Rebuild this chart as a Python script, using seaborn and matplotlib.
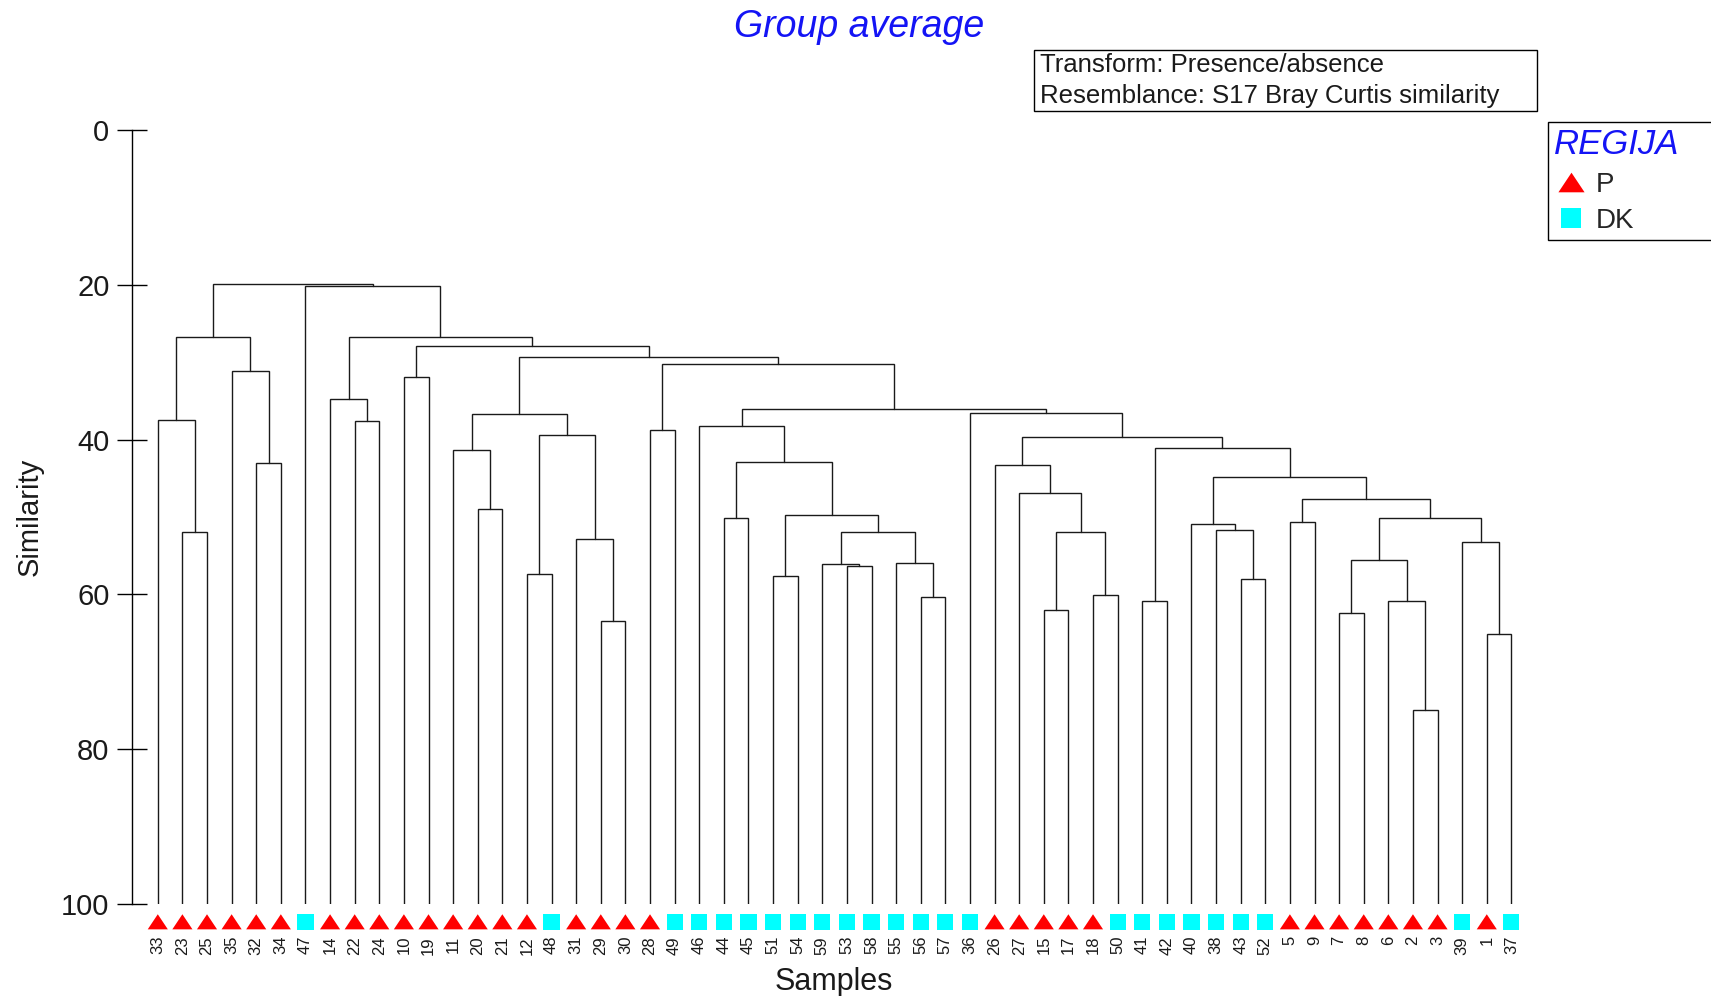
import matplotlib
matplotlib.use("Agg")
import matplotlib.pyplot as plt
from matplotlib.patches import Rectangle
from matplotlib.path import Path
import pandas as pd
import seaborn as sns

# Leaf order of the dendrogram (sample numbers) and the region of each sample
samples = [33, 23, 25, 35, 32, 34, 47, 14, 22, 24, 10, 19, 11, 20, 21, 12, 48,
           31, 29, 30, 28, 49, 46, 44, 45, 51, 54, 59, 53, 58, 55, 56, 57, 36,
           26, 27, 15, 17, 18, 50, 41, 42, 40, 38, 43, 52, 5, 9, 7, 8, 6, 2, 3,
           39, 1, 37]
regija = ["P", "P", "P", "P", "P", "P", "DK", "P", "P", "P", "P", "P", "P", "P",
          "P", "P", "DK", "P", "P", "P", "P", "DK", "DK", "DK", "DK", "DK", "DK",
          "DK", "DK", "DK", "DK", "DK", "DK", "DK", "P", "P", "P", "P", "P", "DK",
          "DK", "DK", "DK", "DK", "DK", "DK", "P", "P", "P", "P", "P", "P", "P",
          "DK", "P", "DK"]

# Group-average merges: (new node, left child, right child, similarity %)
merges = [
    ("n1", 23, 25, 52.0), ("n2", 33, "n1", 37.5), ("n3", 32, 34, 43.0),
    ("n4", 35, "n3", 31.2), ("n5", "n2", "n4", 26.8),
    ("n6", 22, 24, 37.6), ("n7", 14, "n6", 34.7), ("n8", 10, 19, 31.9),
    ("n9", 20, 21, 49.0), ("n10", 11, "n9", 41.3), ("n11", 12, 48, 57.4),
    ("n12", 29, 30, 63.5), ("n13", 31, "n12", 52.9), ("n14", "n11", "n13", 39.4),
    ("n15", "n10", "n14", 36.7), ("n16", 28, 49, 38.8),
    ("n17", 44, 45, 50.1), ("n18", 51, 54, 57.6), ("n19", 53, 58, 56.3),
    ("n20", 59, "n19", 56.1), ("n21", 56, 57, 60.3), ("n22", 55, "n21", 56.0),
    ("n23", "n20", "n22", 51.9), ("n24", "n18", "n23", 49.7),
    ("n25", "n17", "n24", 42.9), ("n26", 46, "n25", 38.2),
    ("n27", 15, 17, 62.0), ("n28", 18, 50, 60.1), ("n29", "n27", "n28", 52.0),
    ("n30", 27, "n29", 46.9), ("n31", 26, "n30", 43.3), ("n32", 41, 42, 60.9),
    ("n33", 43, 52, 58.0), ("n34", 38, "n33", 51.7), ("n35", 40, "n34", 50.9),
    ("n36", 5, 9, 50.7), ("n37", 7, 8, 62.4), ("n38", 2, 3, 74.9),
    ("n39", 6, "n38", 60.8), ("n40", "n37", "n39", 55.5), ("n41", 1, 37, 65.1),
    ("n42", 39, "n41", 53.2), ("n43", "n40", "n42", 50.1),
    ("n44", "n36", "n43", 47.7), ("n45", "n35", "n44", 44.8),
    ("n46", "n32", "n45", 41.1), ("n47", "n31", "n46", 39.6),
    ("n48", 36, "n47", 36.6), ("n49", "n26", "n48", 36.1),
    ("n50", "n16", "n49", 30.2), ("n51", "n15", "n50", 29.3),
    ("n52", "n8", "n51", 27.9), ("n53", "n7", "n52", 26.7),
    ("n54", 47, "n53", 20.2), ("n55", "n5", "n54", 19.9),
]

y_ticks = [0, 20, 40, 60, 80, 100]

sns.set_style("white")
plt.rcParams["font.family"] = ["Liberation Sans", "DejaVu Sans"]

W, H = 1711, 996
fig = plt.figure(figsize=(W / 100, H / 100), dpi=100)
ax = fig.add_axes([131.7 / W, 92 / H, (1536 - 131.7) / W, 774 / H])

# dendrogram links: each merge is drawn as an inverted U
line_col = "#1a1a1a"
xpos = {s: float(i) for i, s in enumerate(samples)}
level = {s: 100.0 for s in samples}
for node, a, b, sim in merges:
    xa, xb = xpos[a], xpos[b]
    ax.plot([xa, xa, xb, xb], [level[a], sim, sim, level[b]],
            color=line_col, lw=1.0, solid_joinstyle="miter", zorder=2)
    xpos[node] = (xa + xb) / 2
    level[node] = sim

# leaf markers coloured by region
leaf_df = pd.DataFrame({"pos": range(len(samples)),
                        "sim": [102.3] * len(samples),
                        "REGIJA": regija})
triangle = Path([(0, 0.75), (-1, -0.75), (1, -0.75), (0, 0.75)],
                [Path.MOVETO, Path.LINETO, Path.LINETO, Path.CLOSEPOLY])
sns.scatterplot(data=leaf_df, x="pos", y="sim", hue="REGIJA", style="REGIJA",
                size="REGIJA", hue_order=["P", "DK"], style_order=["P", "DK"],
                size_order=["P", "DK"],
                palette={"P": "#ff0000", "DK": "#00ffff"},
                markers={"P": triangle, "DK": "s"},
                sizes={"P": 210, "DK": 135},
                linewidth=0, clip_on=False, zorder=3, ax=ax)

ax.set_ylim(100, 0)
ax.set_xlim(-1.06, len(samples))
ax.set_yticks(y_ticks, [str(v) for v in y_ticks])
ax.set_xticks(range(len(samples)), [str(s) for s in samples], rotation=90)
ax.tick_params(axis="y", left=True, direction="inout", length=21, width=1.0,
               labelsize=21, pad=5.5, color="black", labelcolor="#1a1a1a")
ax.tick_params(axis="x", bottom=False, length=0, labelsize=12, pad=23,
               labelcolor="#1a1a1a")
for side in ["top", "right", "bottom"]:
    ax.spines[side].set_visible(False)
ax.spines["left"].set_color("black")
ax.spines["left"].set_linewidth(1.0)

ax.set_ylabel("Similarity", fontsize=21, color="#1a1a1a")
ax.yaxis.set_label_coords(-0.063, 0.5)
ax.set_xlabel("Samples", fontsize=22, color="#1a1a1a")
ax.xaxis.set_label_coords(0.5, -0.081)

# legend, anchored at the top right and running off the page edge
sns.move_legend(ax, "upper left",
                bbox_to_anchor=(1548 / W, 1 - 122 / H, 0.2, 0),
                bbox_transform=fig.transFigure, mode="expand",
                borderaxespad=0, title="REGIJA", frameon=True, fancybox=False,
                fontsize=20, title_fontsize=25, markerscale=1.3,
                alignment="left", handletextpad=0.3, labelspacing=0.38,
                borderpad=0.22, handlelength=1.2)
leg = ax.get_legend()
leg.get_title().set_color("#1414f5")
leg.get_title().set_fontstyle("italic")
leg.get_frame().set_edgecolor("black")
leg.get_frame().set_linewidth(1.0)
leg.get_frame().set_alpha(1)

# title and method annotation
fig.text(859 / W, 1 - 37 / H, "Group average", ha="center", va="baseline",
         fontsize=27, style="italic", color="#1414f5")
fig.patches.append(Rectangle((1034 / W, 1 - 111 / H), (1537 - 1034) / W, 61 / H,
                             transform=fig.transFigure, fill=False,
                             edgecolor="black", lw=1.0))
fig.text(1040 / W, 1 - 64.5 / H, "Transform: Presence/absence",
         ha="left", va="center", fontsize=18.5, color="#1a1a1a")
fig.text(1040 / W, 1 - 96 / H, "Resemblance: S17 Bray Curtis similarity",
         ha="left", va="center", fontsize=18.5, color="#1a1a1a")

fig.savefig("out.png", dpi=100)
